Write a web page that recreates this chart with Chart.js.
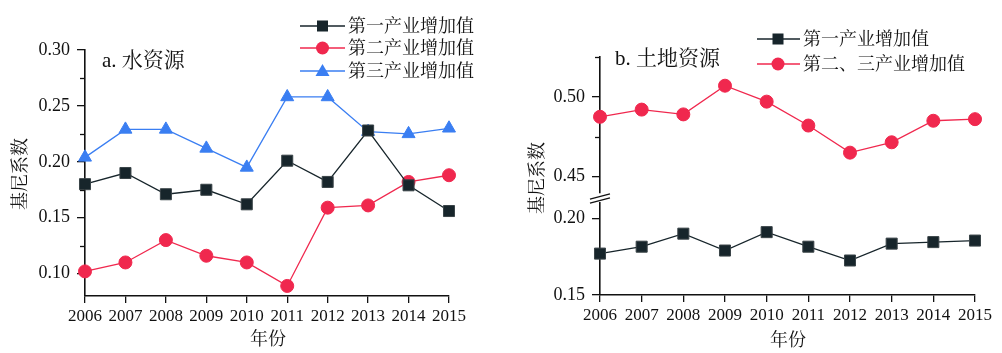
<!DOCTYPE html>
<html>
<head>
<meta charset="utf-8">
<script src="https://cdn.jsdelivr.net/npm/chart.js@4.4.1/dist/chart.umd.min.js"></script>
<style>
  body { margin: 0; width: 1002px; height: 353px; background: #fff; position: relative; overflow: hidden;
         font-family: "Liberation Serif", "Noto Serif CJK SC", "Noto Sans CJK SC", serif; color: #111; }
  canvas { position: absolute; }
  .t { position: absolute; font-size: 18px; line-height: 18px; white-space: nowrap; }
  .h { font-size: 21px; line-height: 21px; }
  .lg { position: absolute; }
</style>
</head>
<body>
<canvas id="ca" width="500" height="353" style="left:0;top:0"></canvas>
<canvas id="cb1" width="502" height="200" style="left:500px;top:0"></canvas>
<canvas id="cb2" width="502" height="168" style="left:500px;top:185px"></canvas>

<!-- titles and legends -->
<div class="t h" style="left:102px;top:50px">a. 水资源</div>
<div class="t h" style="left:615px;top:48px">b. 土地资源</div>
<div class="t" style="left:250px;top:330px">年份</div>
<div class="t" style="left:770px;top:331px">年份</div>
<div class="t" style="left:-16px;top:165px;transform:rotate(-90deg)">基尼系数</div>
<div class="t" style="left:501px;top:169px;transform:rotate(-90deg)">基尼系数</div>

<svg class="lg" style="left:298px;top:14px" width="50" height="70">
  <line x1="2" y1="12" x2="47" y2="12" stroke="#17252b" stroke-width="1.3"/>
  <rect x="19" y="6.5" width="11" height="11" fill="#17252b"/>
  <line x1="2" y1="34" x2="47" y2="34" stroke="#f0284e" stroke-width="1.3"/>
  <circle cx="24.5" cy="34" r="6.5" fill="#f0284e"/>
  <line x1="2" y1="57" x2="47" y2="57" stroke="#3a7ef2" stroke-width="1.3"/>
  <polygon points="24.5,50 31.5,62 17.5,62" fill="#3a7ef2"/>
</svg>
<div class="t" style="left:348px;top:17px">第一产业增加值</div>
<div class="t" style="left:348px;top:39px">第二产业增加值</div>
<div class="t" style="left:348px;top:62px">第三产业增加值</div>

<svg class="lg" style="left:755px;top:27px" width="48" height="50">
  <line x1="2" y1="12" x2="45" y2="12" stroke="#17252b" stroke-width="1.3"/>
  <rect x="17.5" y="6.5" width="11" height="11" fill="#17252b"/>
  <line x1="2" y1="37" x2="45" y2="37" stroke="#f0284e" stroke-width="1.3"/>
  <circle cx="23" cy="37" r="6.5" fill="#f0284e"/>
</svg>
<div class="t" style="left:803px;top:30px">第一产业增加值</div>
<div class="t" style="left:803px;top:55px">第二、三产业增加值</div>

<script>
// data
const years = ['2006', '2007', '2008', '2009', '2010', '2011', '2012', '2013', '2014', '2015'];
const waterPrimary   = [0.180, 0.190, 0.171, 0.175, 0.162, 0.201, 0.182, 0.228, 0.179, 0.156];
const waterSecondary = [0.102, 0.110, 0.130, 0.116, 0.110, 0.089, 0.159, 0.161, 0.182, 0.188];
const waterTertiary  = [0.204, 0.229, 0.229, 0.212, 0.195, 0.258, 0.258, 0.227, 0.225, 0.230];
const landPrimary    = [0.177, 0.1815, 0.190, 0.179, 0.191, 0.1815, 0.1725, 0.1835, 0.1845, 0.1855];
const landSecTer     = [0.4875, 0.492, 0.489, 0.507, 0.497, 0.482, 0.465, 0.4715, 0.485, 0.486];

const waterTicks = [0.10, 0.15, 0.20, 0.25, 0.30];
const waterMinor = [0.125, 0.175, 0.225, 0.275];
const landUpTicks = [0.45, 0.50];
const landUpMinor = [0.475, 0.525];
const landLowTicks = [0.15, 0.20];

const BLACK = '#17252b', RED = '#f0284e', BLUE = '#3a7ef2', AXIS = '#111';
const yFont = { family: 'Liberation Serif', size: 18 };
const xFont = { family: 'Liberation Serif', size: 17 };

// minor ticks + axis break drawn on top of the library's scales
const extras = {
  id: 'extras',
  afterDraw(chart, args, o) {
    const ctx = chart.ctx, y = chart.scales.y;
    ctx.save();
    ctx.strokeStyle = AXIS;
    ctx.lineWidth = 1.3;
    (o.minor || []).forEach(v => {
      const p = Math.round(y.getPixelForValue(v)) + 0.5;
      ctx.beginPath(); ctx.moveTo(y.right - 5, p); ctx.lineTo(y.right, p); ctx.stroke();
    });
    if (o.breakAt != null) {
      const x0 = y.right;
      [o.breakAt - 2, o.breakAt + 2].forEach(b => {
        ctx.beginPath(); ctx.moveTo(x0 - 10, b + 2.7); ctx.lineTo(x0 + 10, b - 2.7); ctx.stroke();
      });
    }
    ctx.restore();
  }
};

function ds(label, data, color, style, r) {
  return { label, data, borderColor: color, backgroundColor: color, borderWidth: 1.3,
           pointStyle: style, pointRadius: r, pointHoverRadius: r, pointBorderWidth: 1,
           pointBorderColor: style === 'rect' ? '#3a4448' : color, tension: 0, clip: false };
}

function yAxis(min, max, ticks, width) {
  return {
    min, max,
    afterBuildTicks: s => { s.ticks = ticks.map(v => ({ value: v })); },
    afterFit: s => { s.width = width; s.paddingTop = 0; s.paddingBottom = 0; },
    ticks: { font: yFont, color: AXIS, padding: 7, callback: v => v.toFixed(2) },
    grid: { display: true, drawOnChartArea: false, drawTicks: true, tickLength: 8, color: AXIS, lineWidth: 1.3 },
    border: { display: true, color: AXIS, width: 1.6 }
  };
}

function xAxis(height, show) {
  return {
    display: show,
    offset: false,
    afterFit: s => { s.height = height; s.paddingLeft = 0; s.paddingRight = 0; },
    ticks: { font: xFont, color: AXIS, padding: 3, maxRotation: 0, autoSkip: false },
    grid: { display: true, drawOnChartArea: false, drawTicks: true, tickLength: 7, color: AXIS, lineWidth: 1.3, offset: false },
    border: { display: true, color: AXIS, width: 1.6 }
  };
}

const common = {
  responsive: false,
  animation: false,
  events: [],
  plugins: { legend: { display: false }, tooltip: { enabled: false } }
};

new Chart(document.getElementById('ca'), {
  type: 'line',
  data: {
    labels: years,
    datasets: [
      ds('第一产业增加值', waterPrimary, BLACK, 'rect', 7.8),
      ds('第二产业增加值', waterSecondary, RED, 'circle', 6.5),
      ds('第三产业增加值', waterTertiary, BLUE, 'triangle', 7.5)
    ]
  },
  options: Object.assign({}, common, {
    layout: { padding: { left: 0, right: 51, top: 50, bottom: 0 } },
    scales: { x: xAxis(57, true), y: yAxis(0.08, 0.30, waterTicks, 85) },
    plugins: Object.assign({}, common.plugins, { extras: { minor: waterMinor } })
  }),
  plugins: [extras]
});

new Chart(document.getElementById('cb1'), {
  type: 'line',
  data: { labels: years, datasets: [ds('第二、三产业增加值', landSecTer, RED, 'circle', 6.5)] },
  options: Object.assign({}, common, {
    layout: { padding: { left: 0, right: 27, top: 57, bottom: 3 } },
    scales: { x: xAxis(0, false), y: yAxis(0.44, 0.525, landUpTicks, 100) },
    plugins: Object.assign({}, common.plugins, { extras: { minor: landUpMinor } })
  }),
  plugins: [extras]
});

new Chart(document.getElementById('cb2'), {
  type: 'line',
  data: { labels: years, datasets: [ds('第一产业增加值', landPrimary, BLACK, 'rect', 7.8)] },
  options: Object.assign({}, common, {
    layout: { padding: { left: 0, right: 27, top: 18, bottom: 0 } },
    scales: { x: xAxis(58, true), y: yAxis(0.15, 0.21, landLowTicks, 100) },
    plugins: Object.assign({}, common.plugins, { extras: { breakAt: 13.5 } })
  }),
  plugins: [extras]
});
</script>
</body>
</html>
